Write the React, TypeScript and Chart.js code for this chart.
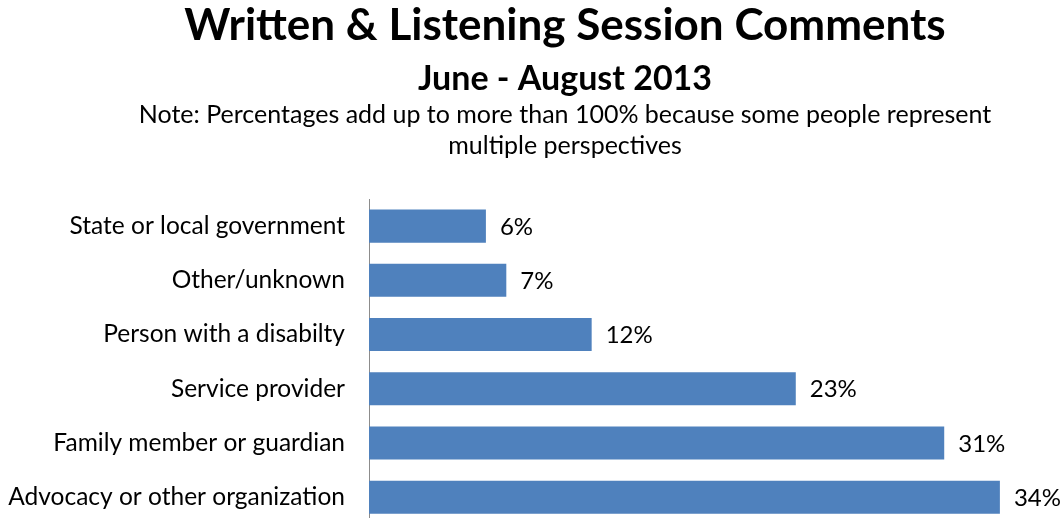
import React, { useEffect, useRef } from "react";
import { Chart, registerables } from "chart.js";

Chart.register(...registerables);

const categories = [
  "State or local government",
  "Other/unknown",
  "Person with a disabilty",
  "Service provider",
  "Family member or guardian",
  "Advocacy or other organization",
];
const values = [6.3, 7.4, 12.0, 23.0, 31.0, 34.0];

const titleText = "Written & Listening Session Comments";
const subtitleText = "June - August 2013";
const noteLines = [
  "Note: Percentages add up to more than 100% because some people represent",
  "multiple perspectives",
];

const FONT = "Lato, 'Liberation Sans', sans-serif";

const headerPlugin = {
  id: "headerText",
  afterDraw(chart: any) {
    const ctx = chart.ctx;
    const cx = 565;
    ctx.save();
    ctx.fillStyle = "#000";
    ctx.textAlign = "center";
    ctx.textBaseline = "alphabetic";
    ctx.font = `bold 44px ${FONT}`;
    ctx.fillText(titleText, cx, 40);
    ctx.font = `bold 34px ${FONT}`;
    ctx.fillText(subtitleText, cx, 90);
    ctx.font = `25px ${FONT}`;
    noteLines.forEach((l, i) => ctx.fillText(l, cx, 123 + i * 31));
    ctx.restore();
  },
};

const valueLabelPlugin = {
  id: "valueLabels",
  afterDatasetsDraw(chart: any) {
    const ctx = chart.ctx;
    const meta = chart.getDatasetMeta(0);
    const data = chart.data.datasets[0].data as number[];
    ctx.save();
    ctx.fillStyle = "#000";
    ctx.font = `24px ${FONT}`;
    ctx.textAlign = "left";
    ctx.textBaseline = "middle";
    meta.data.forEach((bar: any, i: number) => {
      ctx.fillText(`${Math.round(data[i])}%`, bar.x + 14, bar.y + 1);
    });
    ctx.restore();
  },
};

export default function App() {
  const ref = useRef<HTMLCanvasElement | null>(null);
  useEffect(() => {
    if (!ref.current) return;
    const chart = new Chart(ref.current, {
      type: "bar",
      data: {
        labels: categories,
        datasets: [
          {
            data: values,
            backgroundColor: "#4F81BD",
            categoryPercentage: 1,
            barPercentage: 0.61,
          },
        ],
      },
      options: {
        indexAxis: "y",
        responsive: false,
        animation: false,
        layout: { padding: { top: 199, bottom: 6, left: 0, right: 27 } },
        plugins: {
          legend: { display: false },
          tooltip: { enabled: false },
          title: { display: false },
        },
        scales: {
          x: { display: false, min: 0, max: 36 },
          y: {
            afterFit(scale: any) {
              scale.width = 369;
            },
            grid: { display: false, drawTicks: false },
            border: { display: true, color: "#8c8c8c", width: 1 },
            ticks: {
              color: "#000",
              font: { family: FONT, size: 24.5 },
              padding: 24,
            },
          },
        },
      },
      plugins: [headerPlugin, valueLabelPlugin],
    });
    return () => chart.destroy();
  }, []);
  return (
    <div style={{ position: "fixed", left: 0, top: 0, width: "100vw", height: "100vh", overflow: "hidden", background: "#fff" }}>
      <canvas ref={ref} width={1064} height={563} style={{ display: "block" }} />
    </div>
  );
}
